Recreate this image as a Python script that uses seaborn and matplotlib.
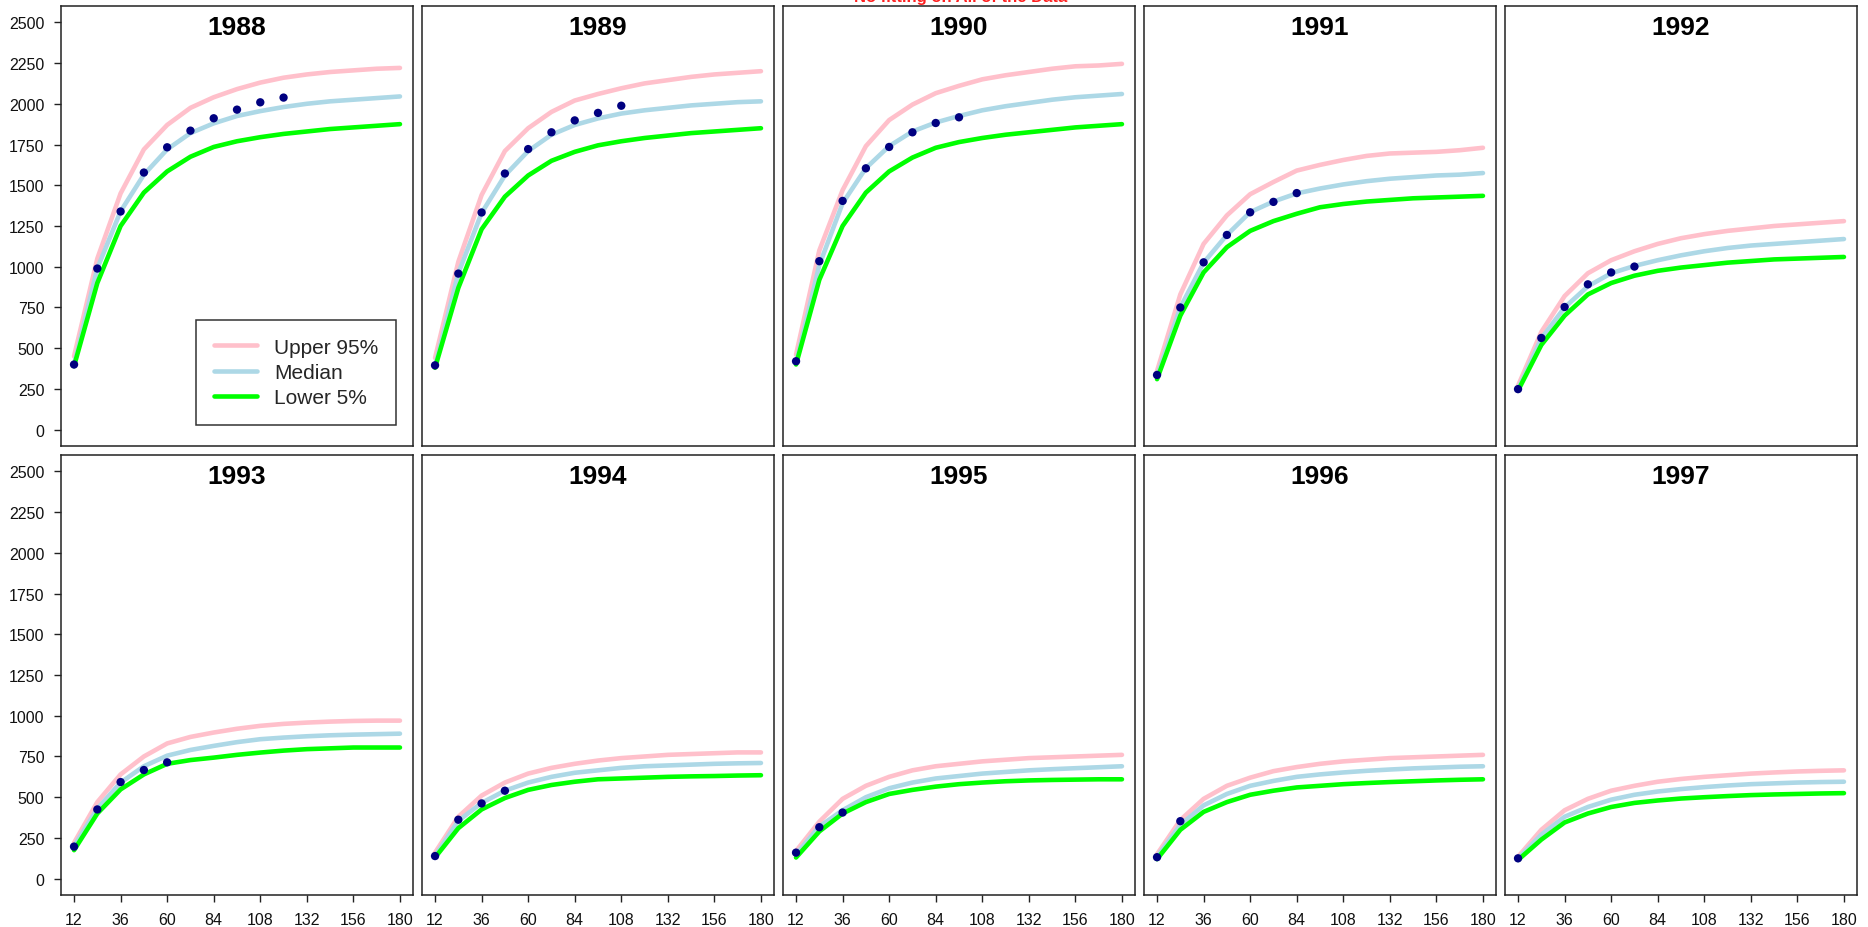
import numpy as np
import pandas as pd
import matplotlib
matplotlib.use("Agg")
import matplotlib.pyplot as plt
import seaborn as sns

# ─── data ────────────────────────────────────────────────────────────────────
YEARS = [1988, 1989, 1990, 1991, 1992, 1993, 1994, 1995, 1996, 1997]
AGES = [12, 24, 36, 48, 60, 72, 84, 96, 108, 120, 132, 144, 156, 168, 180]
X_TICKS = [12, 36, 60, 84, 108, 132, 156, 180]
Y_TICKS = list(range(0, 2501, 250))

UPPER = [
    [450, 1050, 1450, 1720, 1870, 1975, 2040, 2090, 2130, 2160, 2180, 2195, 2205, 2215, 2220],
    [440, 1030, 1440, 1710, 1850, 1950, 2020, 2060, 2095, 2125, 2145, 2165, 2180, 2190, 2200],
    [460, 1100, 1470, 1740, 1900, 1995, 2065, 2110, 2150, 2175, 2195, 2215, 2230, 2235, 2245],
    [360, 830, 1140, 1315, 1445, 1520, 1590, 1625, 1655, 1680, 1695, 1700, 1705, 1715, 1730],
    [270, 600, 820, 960, 1040, 1095, 1140, 1175, 1200, 1220, 1235, 1250, 1260, 1270, 1280],
    [220, 470, 640, 750, 830, 870, 897, 920, 938, 950, 958, 964, 968, 970, 970],
    [160, 380, 510, 590, 645, 680, 705, 725, 740, 750, 760, 765, 770, 775, 775],
    [170, 350, 490, 570, 625, 665, 690, 705, 720, 730, 740, 745, 750, 755, 760],
    [150, 360, 490, 570, 620, 660, 685, 705, 720, 730, 740, 745, 750, 755, 760],
    [135, 300, 420, 490, 540, 570, 595, 612, 625, 635, 645, 652, 658, 662, 665],
]
MEDIAN = [
    [400, 990, 1340, 1565, 1720, 1820, 1880, 1925, 1955, 1980, 2000, 2015, 2025, 2035, 2045],
    [390, 960, 1330, 1560, 1710, 1810, 1870, 1910, 1940, 1960, 1975, 1990, 2000, 2010, 2015],
    [410, 1010, 1390, 1605, 1740, 1830, 1885, 1925, 1960, 1985, 2005, 2025, 2040, 2050, 2060],
    [330, 750, 1025, 1195, 1335, 1400, 1450, 1480, 1505, 1525, 1540, 1550, 1560, 1565, 1575],
    [250, 560, 750, 880, 960, 1005, 1040, 1070, 1095, 1115, 1130, 1140, 1150, 1160, 1170],
    [200, 430, 590, 690, 755, 790, 815, 838, 856, 866, 874, 880, 884, 887, 890],
    [140, 355, 465, 540, 590, 625, 650, 665, 680, 690, 695, 700, 705, 708, 710],
    [150, 320, 420, 500, 555, 590, 615, 630, 645, 655, 665, 672, 678, 684, 690],
    [135, 330, 450, 520, 570, 600, 625, 640, 652, 662, 670, 677, 682, 687, 690],
    [125, 270, 380, 440, 485, 515, 535, 550, 562, 572, 580, 585, 590, 593, 595],
]
LOWER = [
    [390, 900, 1250, 1455, 1585, 1675, 1735, 1770, 1795, 1815, 1830, 1845, 1855, 1865, 1875],
    [380, 870, 1230, 1430, 1560, 1650, 1705, 1745, 1770, 1790, 1805, 1820, 1830, 1840, 1850],
    [400, 920, 1250, 1455, 1585, 1670, 1730, 1765, 1790, 1810, 1825, 1840, 1855, 1865, 1875],
    [310, 700, 965, 1120, 1220, 1280, 1325, 1365, 1385, 1400, 1410, 1420, 1425, 1430, 1435],
    [240, 520, 700, 830, 900, 945, 975, 995, 1010, 1025, 1035, 1045, 1050, 1055, 1060],
    [175, 400, 548, 640, 705, 728, 743, 760, 774, 786, 795, 800, 805, 805, 805],
    [130, 310, 425, 495, 545, 575, 595, 610, 615, 620, 625, 628, 630, 633, 635],
    [130, 290, 400, 470, 520, 545, 565, 580, 590, 598, 603, 606, 608, 610, 610],
    [120, 300, 410, 470, 515, 540, 560, 570, 580, 587, 593, 598, 603, 607, 610],
    [115, 240, 345, 400, 440, 465, 480, 492, 500, 507, 513, 517, 520, 523, 525],
]
# observed points, one every 12 months starting at age 12
OBSERVED = [
    [400, 989, 1339, 1578, 1733, 1835, 1911, 1964, 2009, 2038],
    [395, 958, 1333, 1572, 1722, 1825, 1898, 1944, 1988],
    [420, 1034, 1404, 1604, 1735, 1825, 1882, 1917],
    [336, 750, 1027, 1195, 1334, 1398, 1452],
    [249, 563, 753, 892, 965, 1001],
    [197, 425, 593, 667, 714],
    [139, 362, 462, 540],
    [160, 316, 406],
    [132, 353],
    [125],
]

SERIES = ["Upper 95%", "Median", "Lower 5%"]
COLORS = {"Upper 95%": "#FFC0CB", "Median": "#ADD8E6", "Lower 5%": "#00FF00"}

# ─── long tables for seaborn ─────────────────────────────────────────────────
rows = []
for yr, up, md, lo in zip(YEARS, UPPER, MEDIAN, LOWER):
    for name, vals in zip(SERIES, [up, md, lo]):
        for a, v in zip(AGES, vals):
            rows.append((yr, name, a, v))
curves = pd.DataFrame(rows, columns=["year", "series", "age", "value"])

obs_rows = []
for yr, vals in zip(YEARS, OBSERVED):
    for a, v in zip(AGES, vals):
        obs_rows.append((yr, a, v))
obs = pd.DataFrame(obs_rows, columns=["year", "age", "value"])

# ─── figure ──────────────────────────────────────────────────────────────────
sns.set_style("white")
plt.rcParams["font.family"] = ["Liberation Sans", "DejaVu Sans"]

W, H = 1868, 928
fig = plt.figure(figsize=(W / 100, H / 100), dpi=100)

left0, pw, step = 61, 352, 361
row_tops = [7, 456]
ph = 440

for i, yr in enumerate(YEARS):
    r, c = divmod(i, 5)
    x0 = left0 + c * step
    y0 = row_tops[r] + ph
    ax = fig.add_axes([x0 / W, 1 - y0 / H, pw / W, ph / H])

    sub = curves[curves["year"] == yr]
    sns.lineplot(data=sub, x="age", y="value", hue="series", hue_order=SERIES,
                 palette=COLORS, linewidth=3.3, legend=False, ax=ax, sort=False)
    sns.scatterplot(data=obs[obs["year"] == yr], x="age", y="value",
                    color="#000080", s=36, edgecolor="none", zorder=5, ax=ax)

    ax.set_xlim(5.28, 186.72)
    ax.set_ylim(-100, 2600)
    ax.set_xlabel("")
    ax.set_ylabel("")
    ax.text(0.5, 1 - 9 / ph, str(yr), transform=ax.transAxes, ha="center",
            va="top", fontsize=19, fontweight="bold", color="black")

    for sp in ax.spines.values():
        sp.set_color("#222222")
        sp.set_linewidth(1.1)

    ax.set_xticks(X_TICKS)
    ax.set_yticks(Y_TICKS)
    ax.tick_params(axis="both", direction="out", length=5, width=1,
                   color="#222222", labelsize=11.5, labelcolor="#111111")
    ax.tick_params(axis="x", pad=7)
    ax.tick_params(axis="y", pad=7)
    if c != 0:
        ax.tick_params(axis="y", left=False, labelleft=False)
    else:
        ax.tick_params(axis="y", left=True)
    if r != 1:
        ax.tick_params(axis="x", bottom=False, labelbottom=False)
    else:
        ax.tick_params(axis="x", bottom=True)

    if i == 0:
        handles = [plt.Line2D([], [], color=COLORS[s], linewidth=3.3) for s in SERIES]
        leg = ax.legend(handles, SERIES, loc="lower right",
                        bbox_to_anchor=(0.952, 0.048), fontsize=15,
                        frameon=True, fancybox=False, edgecolor="black",
                        handlelength=2.1, handletextpad=0.8, labelspacing=0.3,
                        borderpad=0.85, borderaxespad=0)
        leg.get_frame().set_linewidth(1.1)

fig.text(0.514, 1 - 2 / H, "No fitting on All of the Data", ha="center",
         va="baseline", fontsize=12, fontweight="bold", color="#FF2020")

fig.savefig("out.png", dpi=100)
